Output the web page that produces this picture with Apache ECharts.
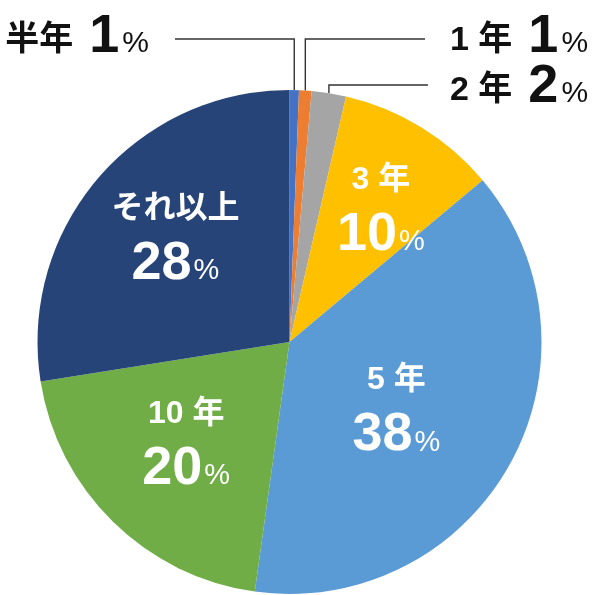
<!DOCTYPE html>
<html><head><meta charset="utf-8">
<script src="https://cdn.jsdelivr.net/npm/echarts@6/dist/echarts.min.js"></script>
<style>html,body{margin:0;padding:0;background:#fff}#c{width:600px;height:595px}</style>
</head><body><div id="c"></div>
<script>
// ---- data ----
const categories = ['半年', '1年', '2年', '3年', '5年', '10年', 'それ以上'];
const shares = [0.6, 0.8, 2.2, 10.3, 38.3, 20.3, 27.5];   // slice sizes (%)
const colors = ['#4472C4', '#ED7D31', '#A5A5A5', '#FFC000', '#5B9BD5', '#70AD47', '#264478'];
const outsideNames = ['半年', '1年', '2年'];

// ---- styling / layout ----
const LAT = '"Liberation Sans", "Noto Sans CJK JP", sans-serif';
const outerCfg = {
  '半年': { tx: 149, ty: 37, align: 'right', ly: 39, lx: 175 },
  '1年':  { tx: 450, ty: 37, align: 'left',  ly: 39, lx: 425 },
  '2年':  { tx: 450, ty: 87, align: 'left',  ly: 85, lx: 428 }
};
const innerOffset = {
  '3年': [24, -22], '5年': [-6, 6], '10年': [-13, 10], 'それ以上': [-16, -19]
};

function spaced(n) { return n.replace(/^(\d+)年$/, '$1 年'); }

const innerRich = {
  n: { fontFamily: LAT, fontWeight: 'bold', fontSize: 32, color: '#fff', lineHeight: 50 },
  v: { fontFamily: LAT, fontWeight: 'bold', fontSize: 54, color: '#fff', lineHeight: 60 },
  p: { fontFamily: LAT, fontSize: 29, color: '#fff', lineHeight: 60, padding: [14, 0, 0, 2] }
};
const outerRich = {
  n: { fontFamily: LAT, fontWeight: 'bold', fontSize: 34, color: '#111', lineHeight: 56, padding: [8, 0, 0, 0] },
  v: { fontFamily: LAT, fontWeight: 'bold', fontSize: 54, color: '#111', lineHeight: 56, padding: [0, 0, 0, 16] },
  p: { fontFamily: LAT, fontSize: 30, color: '#111', lineHeight: 56, padding: [14, 0, 0, 3] }
};

const data = categories.map((name, i) => {
  const outside = outsideNames.indexOf(name) >= 0;
  return {
    name: name,
    value: shares[i],
    itemStyle: { color: colors[i] },
    label: outside
      ? { position: 'outside', rich: outerRich }
      : { position: 'inside', rich: innerRich },
    labelLine: { show: outside }
  };
});

const chart = echarts.init(document.getElementById('c'), null, { renderer: 'canvas' });
chart.setOption({
  animation: false,
  backgroundColor: '#fff',
  series: [{
    type: 'pie',
    center: [289.5, 342],
    radius: 252,
    startAngle: 90,
    clockwise: true,
    avoidLabelOverlap: false,
    itemStyle: { borderWidth: 0 },
    label: {
      show: true,
      formatter: function (p) {
        const pct = Math.round(p.value);
        if (outsideNames.indexOf(p.name) >= 0) {
          return '{n|' + spaced(p.name) + '}{v|' + pct + '}{p|%}';
        }
        return '{n|' + spaced(p.name) + '}\n{v|' + pct + '}{p|%}';
      }
    },
    labelLine: { show: true, length: 10, length2: 10, smooth: false,
      lineStyle: { color: '#333', width: 1.4 } },
    labelLayout: function (params) {
      const name = categories[params.dataIndex];
      const cfg = outerCfg[name];
      if (cfg) {
        const p0 = params.labelLinePoints ? params.labelLinePoints[0] : [cfg.lx, cfg.ly];
        return {
          x: cfg.tx, y: cfg.ty, align: cfg.align, verticalAlign: 'middle',
          labelLinePoints: [[p0[0], p0[1]], [p0[0], cfg.ly], [cfg.lx, cfg.ly]]
        };
      }
      const off = innerOffset[name] || [0, 0];
      return { dx: off[0], dy: off[1] };
    },
    data: data
  }]
});
</script>
</body></html>
